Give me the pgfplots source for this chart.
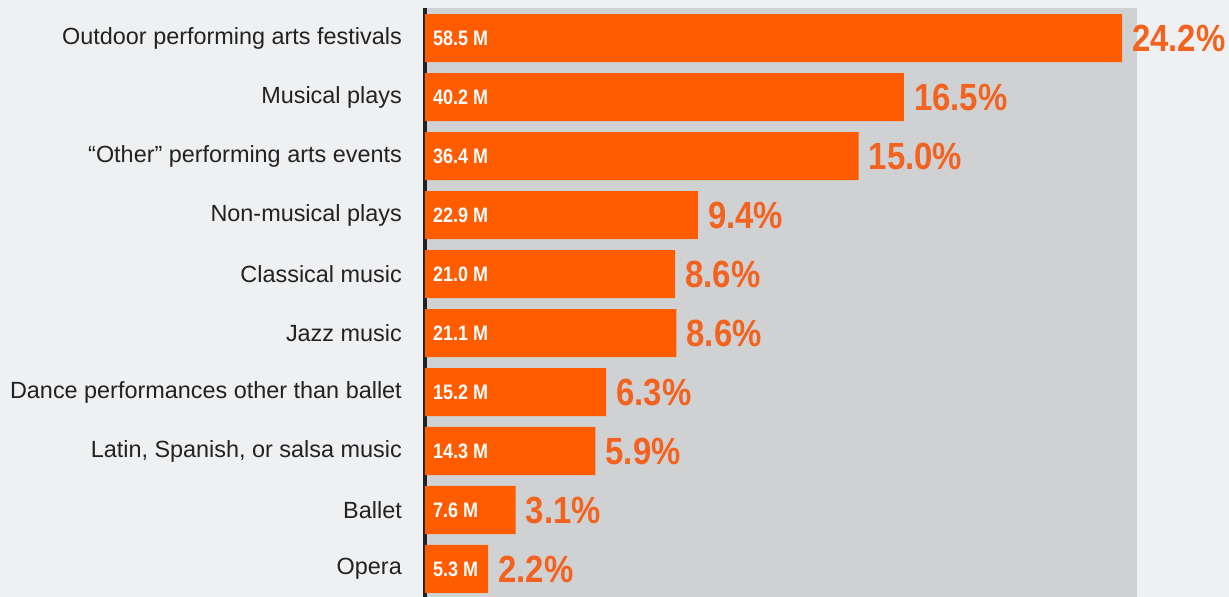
\documentclass[border=0pt]{standalone}
\usepackage{pgfplots}
\pgfplotsset{compat=1.18}
\usepackage{pgfplotstable}
\usepackage{fontspec}
\setmainfont{Liberation Sans}
\newfontfamily\condfont[FakeStretch=0.86]{Liberation Sans}
\newfontfamily\pctfont[FakeStretch=0.87]{Liberation Sans}

\definecolor{pagebg}{HTML}{EFF0F2}
\definecolor{panel}{HTML}{D0D1D3}
\definecolor{barorange}{HTML}{FF5C00}
\definecolor{pcttext}{HTML}{F3621E}
\definecolor{axisdark}{HTML}{222222}
\definecolor{labeltext}{HTML}{222222}

% attendance by event type (millions) and share
\pgfplotstableread{
idx zero val lab pct
0 0 58.5 {58.5 M} {24.2\%}
1 0 40.2 {40.2 M} {16.5\%}
2 0 36.4 {36.4 M} {15.0\%}
3 0 22.9 {22.9 M} {9.4\%}
4 0 21.0 {21.0 M} {8.6\%}
5 0 21.1 {21.1 M} {8.6\%}
6 0 15.2 {15.2 M} {6.3\%}
7 0 14.3 {14.3 M} {5.9\%}
8 0 7.6 {7.6 M} {3.1\%}
9 0 5.3 {5.3 M} {2.2\%}
}\data

\begin{document}
\begin{tikzpicture}
\fill[pagebg] (0,0) rectangle (1229bp,597bp);
\useasboundingbox (0,0) rectangle (1229bp,597bp);
\begin{axis}[
    at={(425bp,0bp)}, anchor=south west,
    scale only axis, width=712bp, height=589bp,
    xmin=0, xmax=59.76, ymin=-0.51, ymax=9.475, y dir=reverse,
    axis background/.style={fill=panel},
    axis lines*=left,
    x axis line style={draw=none},
    y axis line style={draw=axisdark, line width=3bp},
    xtick=\empty,
    ytick={0,...,9},
    yticklabels={Outdoor performing arts festivals, Musical plays,
        “Other” performing arts events, Non-musical plays, Classical music,
        Jazz music, Dance performances other than ballet,
        {Latin, Spanish, or salsa music}, Ballet, Opera},
    ytick style={draw=none},
    yticklabel style={font=\fontsize{23.5}{27}\selectfont, text=labeltext,
        inner sep=0pt, xshift=-23bp},
    clip=false,
]
\addplot[xbar, bar width=0.814, bar shift=0pt, fill=barorange, draw=none,
    nodes near coords, point meta=explicit symbolic,
    every node near coord/.append style={anchor=west, inner sep=0pt, xshift=10bp,
        text=pcttext, font=\pctfont\bfseries\fontsize{38}{40}\selectfont}]
    table[x=val, y=idx, meta=pct] {\data};
\addplot[draw=none, mark=none,
    nodes near coords, point meta=explicit symbolic,
    every node near coord/.append style={anchor=west, inner sep=0pt, xshift=8bp,
        text=white, font=\condfont\bfseries\fontsize{21}{23}\selectfont}]
    table[x=zero, y=idx, meta=lab] {\data};
\end{axis}
\end{tikzpicture}
\end{document}
